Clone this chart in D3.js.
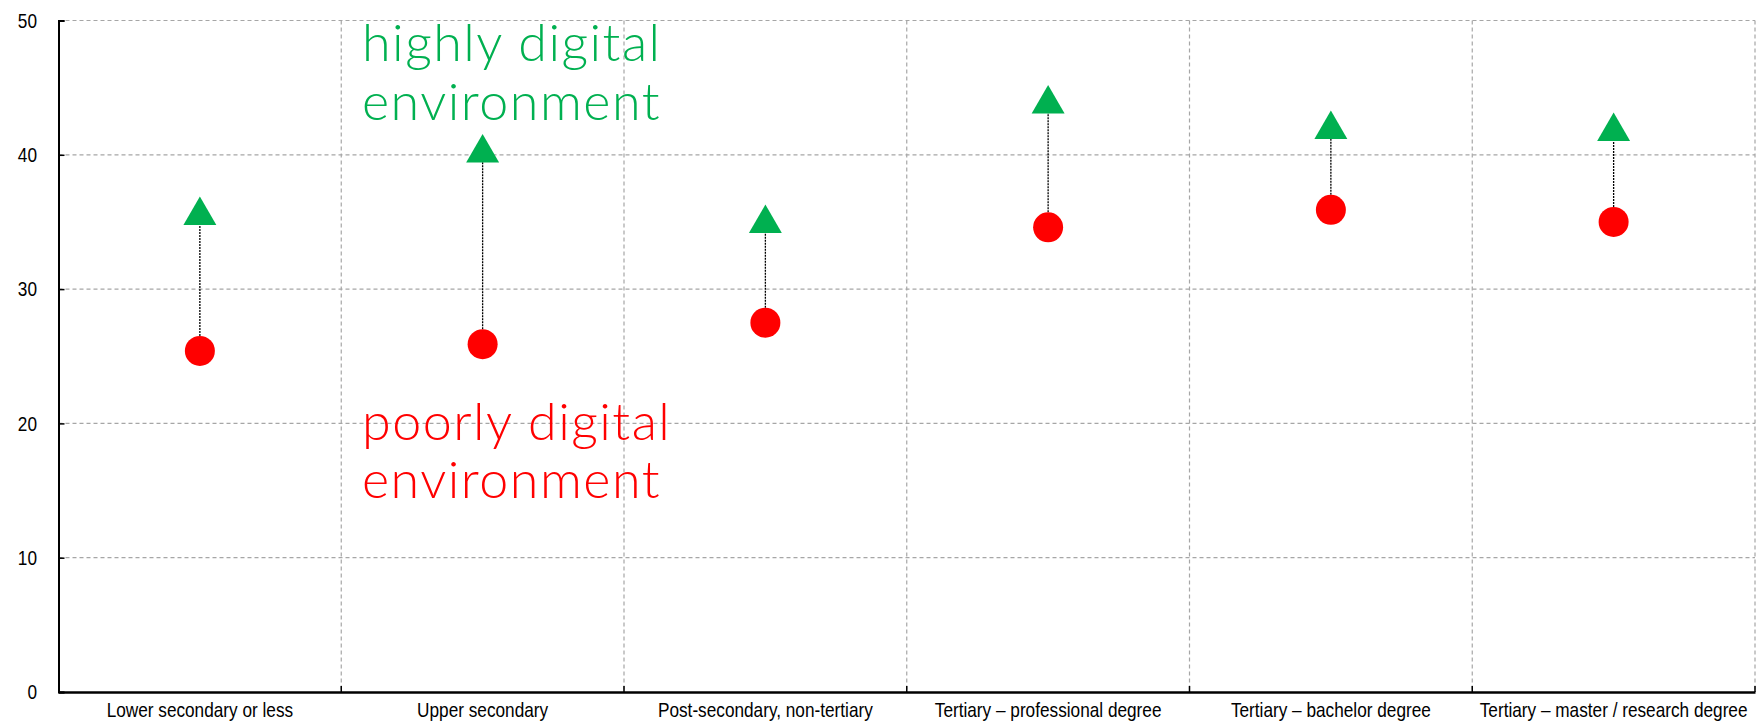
<!DOCTYPE html>
<html>
<head>
<meta charset="utf-8">
<script src="https://cdn.jsdelivr.net/npm/d3@7"></script>
<style>
  html, body { margin: 0; padding: 0; background: #fff; }
  svg { display: block; }
  .tick-label { font-family: "Liberation Sans", Arial, sans-serif; font-size: 21px; fill: #000; }
  .annot { font-family: "Lato", "Noto Sans", sans-serif; font-size: 52px; font-weight: 300; letter-spacing: 1.5px; }
</style>
</head>
<body>
<svg id="chart" width="1758" height="724"></svg>
<script>
const categories = [
  "Lower secondary or less",
  "Upper secondary",
  "Post-secondary, non-tertiary",
  "Tertiary \u2013 professional degree",
  "Tertiary \u2013 bachelor degree",
  "Tertiary \u2013 master / research degree"
];
const poorlyDigital = [25.4, 25.9, 27.5, 34.6, 35.9, 35.0];
const highlyDigital = [35.7, 40.35, 35.1, 44.0, 42.1, 41.95];
const yTicks = [0, 10, 20, 30, 40, 50];

const svg = d3.select("#chart");
const margin = { left: 58.5, right: 1755, top: 20.5, bottom: 692 };
const narrow = 0.82;

const x = d3.scaleBand().domain(categories).range([margin.left, margin.right]).padding(0);
const y = d3.scaleLinear().domain([0, 50]).range([margin.bottom, margin.top]);

// horizontal grid
svg.append("g").selectAll("line").data(yTicks.filter(d => d > 0)).join("line")
  .attr("x1", margin.left).attr("x2", margin.right)
  .attr("y1", d => y(d)).attr("y2", d => y(d))
  .attr("stroke", "#a6a6a6").attr("stroke-width", 1.2).attr("stroke-dasharray", "4,3");

// vertical grid (category boundaries)
const bounds = categories.map(c => x(c) + x.bandwidth());
svg.append("g").selectAll("line").data(bounds).join("line")
  .attr("x1", d => d).attr("x2", d => d)
  .attr("y1", margin.top).attr("y2", margin.bottom)
  .attr("stroke", "#a6a6a6").attr("stroke-width", 1.2).attr("stroke-dasharray", "4,3");

// y axis
const yAxis = d3.axisRight(y).tickValues(yTicks).tickSize(6).tickFormat("");
const gy = svg.append("g").attr("transform", `translate(${margin.left},0)`).call(yAxis);
gy.select(".domain").attr("stroke", "#000").attr("stroke-width", 2);
gy.selectAll(".tick line").attr("stroke", "#000").attr("stroke-width", 1.5);
svg.append("g").selectAll("text").data(yTicks).join("text")
  .attr("class", "tick-label")
  .attr("transform", d => `translate(37,${y(d)}) scale(${narrow},1)`)
  .attr("dy", "0.35em")
  .attr("text-anchor", "end").text(d => d);

// x axis
const xAxis = d3.axisTop(x).tickSize(0).tickFormat("");
const gx = svg.append("g").attr("transform", `translate(0,${margin.bottom})`).call(xAxis);
gx.select(".domain").attr("stroke", "#000").attr("stroke-width", 2.5);
svg.append("g").selectAll("line").data(bounds).join("line")
  .attr("x1", d => d).attr("x2", d => d)
  .attr("y1", margin.bottom).attr("y2", margin.bottom - 6)
  .attr("stroke", "#000").attr("stroke-width", 1.5);
svg.append("g").selectAll("text").data(categories).join("text")
  .attr("class", "tick-label")
  .attr("transform", d => `translate(${x(d) + x.bandwidth() / 2},717) scale(${narrow},1)`)
  .attr("text-anchor", "middle").text(d => d);

// connectors
const data = categories.map((c, i) => ({ c, lo: poorlyDigital[i], hi: highlyDigital[i] }));
svg.append("g").selectAll("line").data(data).join("line")
  .attr("x1", d => x(d.c) + x.bandwidth() / 2).attr("x2", d => x(d.c) + x.bandwidth() / 2)
  .attr("y1", d => y(d.lo)).attr("y2", d => y(d.hi))
  .attr("stroke", "#000").attr("stroke-width", 1.3).attr("stroke-dasharray", "2,1");

// circles
svg.append("g").selectAll("circle").data(data).join("circle")
  .attr("cx", d => x(d.c) + x.bandwidth() / 2).attr("cy", d => y(d.lo))
  .attr("r", 15).attr("fill", "#ff0000");

// triangles
const tri = d3.symbol().type(d3.symbolTriangle).size(470);
svg.append("g").selectAll("path").data(data).join("path")
  .attr("d", tri)
  .attr("transform", d => `translate(${x(d.c) + x.bandwidth() / 2},${y(d.hi) + 3})`)
  .attr("fill", "#00b050");

// annotations
const ann = svg.append("g");
ann.append("text").attr("class", "annot").attr("fill", "#00b050")
  .attr("x", 362).attr("y", 61).text("highly digital");
ann.append("text").attr("class", "annot").attr("fill", "#00b050")
  .attr("x", 362).attr("y", 120).text("environment");
ann.append("text").attr("class", "annot").attr("fill", "#ff0000")
  .attr("x", 362).attr("y", 440).text("poorly digital");
ann.append("text").attr("class", "annot").attr("fill", "#ff0000")
  .attr("x", 362).attr("y", 498).text("environment");
</script>
</body>
</html>
